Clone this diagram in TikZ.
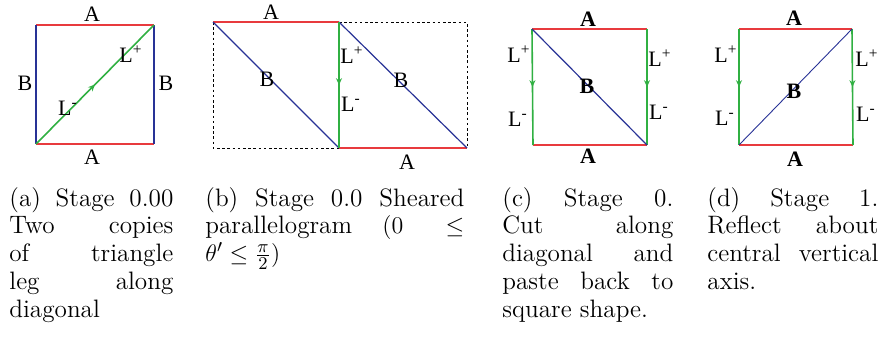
\documentclass[tikz,border=0pt]{standalone}
\usepackage{fontspec}
\newfontfamily\labfont{Liberation Serif}
\usetikzlibrary{arrows.meta,decorations.markings}
\definecolor{edgea}{RGB}{232,58,62}
\definecolor{edgeb}{RGB}{40,50,150}
\definecolor{edgel}{RGB}{48,176,66}
\tikzset{
  sidea/.style={edgea,line width=0.8pt},
  sideb/.style={edgeb,line width=0.6pt},
  sidel/.style={edgel,line width=0.8pt},
  frame/.style={black,line width=0.5pt,dash pattern=on 1.3pt off 1.3pt},
  midarrow/.style={postaction={decorate},decoration={markings,mark=at position 0.5 with {\arrow{Stealth[length=3.4pt,width=3pt]}}}},
  lab/.style={font=\labfont\fontsize{11}{13}\selectfont,inner sep=0pt},
  blab/.style={font=\labfont\bfseries\fontsize{11}{13}\selectfont,inner sep=0pt},
  capt/.style={anchor=base west,inner sep=0pt,align=justify,font=\fontsize{12.6}{13.9}\selectfont},
}

\begin{document}
\begin{tikzpicture}[x=0.5pt,y=-0.5pt]
\useasboundingbox (0,0) rectangle (885,338);
% ================= Panel (a) =================
\coordinate (a1) at (36,144);
\coordinate (a2) at (154,144);
\coordinate (a3) at (154,25);
\coordinate (a4) at (36,25);
\draw[sidea] (a4) -- (a3);
\draw[sidea] (a1) -- (a2);
\draw[sideb] (a1) -- (a4);
\draw[sideb] (a2) -- (a3);
\draw[sidel,midarrow] (a1) -- (a3);
\node[lab] (aAt) at (92,14) {A};
\node[lab] (aAb) at (92,157) {A};
\node[lab] (aBl) at (25,83) {B};
\node[lab] (aBr) at (166,83) {B};
\node[lab] (aLp) at (131,54) {L\textsuperscript{+}};
\node[lab] (aLm) at (68,108) {L\textsuperscript{-}};

% ================= Panel (b) =================
\coordinate (b1) at (213,148);
\coordinate (b2) at (339,148);
\coordinate (b3) at (467,148);
\coordinate (b4) at (467,22);
\coordinate (b5) at (339,22);
\coordinate (b6) at (213,22);
% dotted outline of the two squares
\draw[frame] (b6) -- (b1) -- (b2);
\draw[frame] (b5) -- (b4) -- (b3);
\draw[sidea] (b6) -- (b5);
\draw[sidea] (b2) -- (b3);
\draw[sideb] (b6) -- (b2);
\draw[sideb] (b5) -- (b3);
\draw[sidel,midarrow] (b5) -- (b2);
\node[lab] (bAt) at (271,12) {A};
\node[lab] (bAb) at (407,162) {A};
\node[lab] (bBl) at (267,79) {B};
\node[lab] (bBr) at (401,80) {B};
\node[lab] (bLp) at (352,55) {L\textsuperscript{+}};
\node[lab] (bLm) at (351,104) {L\textsuperscript{-}};

% ================= Panel (c) =================
\coordinate (c1) at (533,145);
\coordinate (c2) at (647,145);
\coordinate (c3) at (647,29);
\coordinate (c4) at (532,29);
\draw[sidea] (c4) -- (c3);
\draw[sidea] (c1) -- (c2);
\draw[sidel,midarrow] (c4) -- (c1);
\draw[sidel,midarrow] (c3) -- (c2);
\draw[sideb] (c4) -- (c2);
\node[blab] (cAt) at (588,19) {A};
\node[blab] (cAb) at (588,156) {A};
\node[blab] (cB) at (587,86) {B};
\node[lab] (cLpl) at (519,54) {L\textsuperscript{+}};
\node[lab] (cLml) at (518,119) {L\textsuperscript{-}};
\node[lab] (cLpr) at (660,58) {L\textsuperscript{+}};
\node[lab] (cLmr) at (659,112) {L\textsuperscript{-}};

% ================= Panel (d) =================
\coordinate (d1) at (739,145);
\coordinate (d2) at (853,145);
\coordinate (d3) at (852,29);
\coordinate (d4) at (739,29);
\draw[sidea] (d4) -- (d3);
\draw[sidea] (d1) -- (d2);
\draw[sidel,midarrow] (d4) -- (d1);
\draw[sidel,midarrow] (d3) -- (d2);
\draw[sideb,line width=0.45pt] (d1) -- (d3);
\node[blab] (dAt) at (794,18) {A};
\node[blab] (dAb) at (795,159) {A};
\node[blab] (dB) at (794,91) {B};
\node[lab] (dLpl) at (726,54) {L\textsuperscript{+}};
\node[lab] (dLml) at (725,118) {L\textsuperscript{-}};
\node[lab] (dLpr) at (867,58) {L\textsuperscript{+}};
\node[lab] (dLmr) at (866,114) {L\textsuperscript{-}};

% ================= captions =================
\node[capt,text width=82pt] (capa) at (9,206) {(a) Stage 0.00\linebreak Two copies\linebreak of triangle\linebreak leg along\linebreak diagonal};
\node[capt,text width=129.5pt] (capb) at (205,206) {(b) Stage 0.0 Sheared\linebreak parallelogram $(0 \leq$\linebreak $\theta' \leq \frac{\pi}{2})$};
\node[capt,text width=85.5pt] (capc) at (502,206) {(c) Stage 0.\linebreak Cut along\linebreak diagonal and\linebreak paste back to\linebreak square shape.};
\node[capt,text width=85.5pt] (capd) at (707,206) {(d) Stage 1.\linebreak Reflect about\linebreak central vertical\linebreak axis.};
\end{tikzpicture}
\end{document}
